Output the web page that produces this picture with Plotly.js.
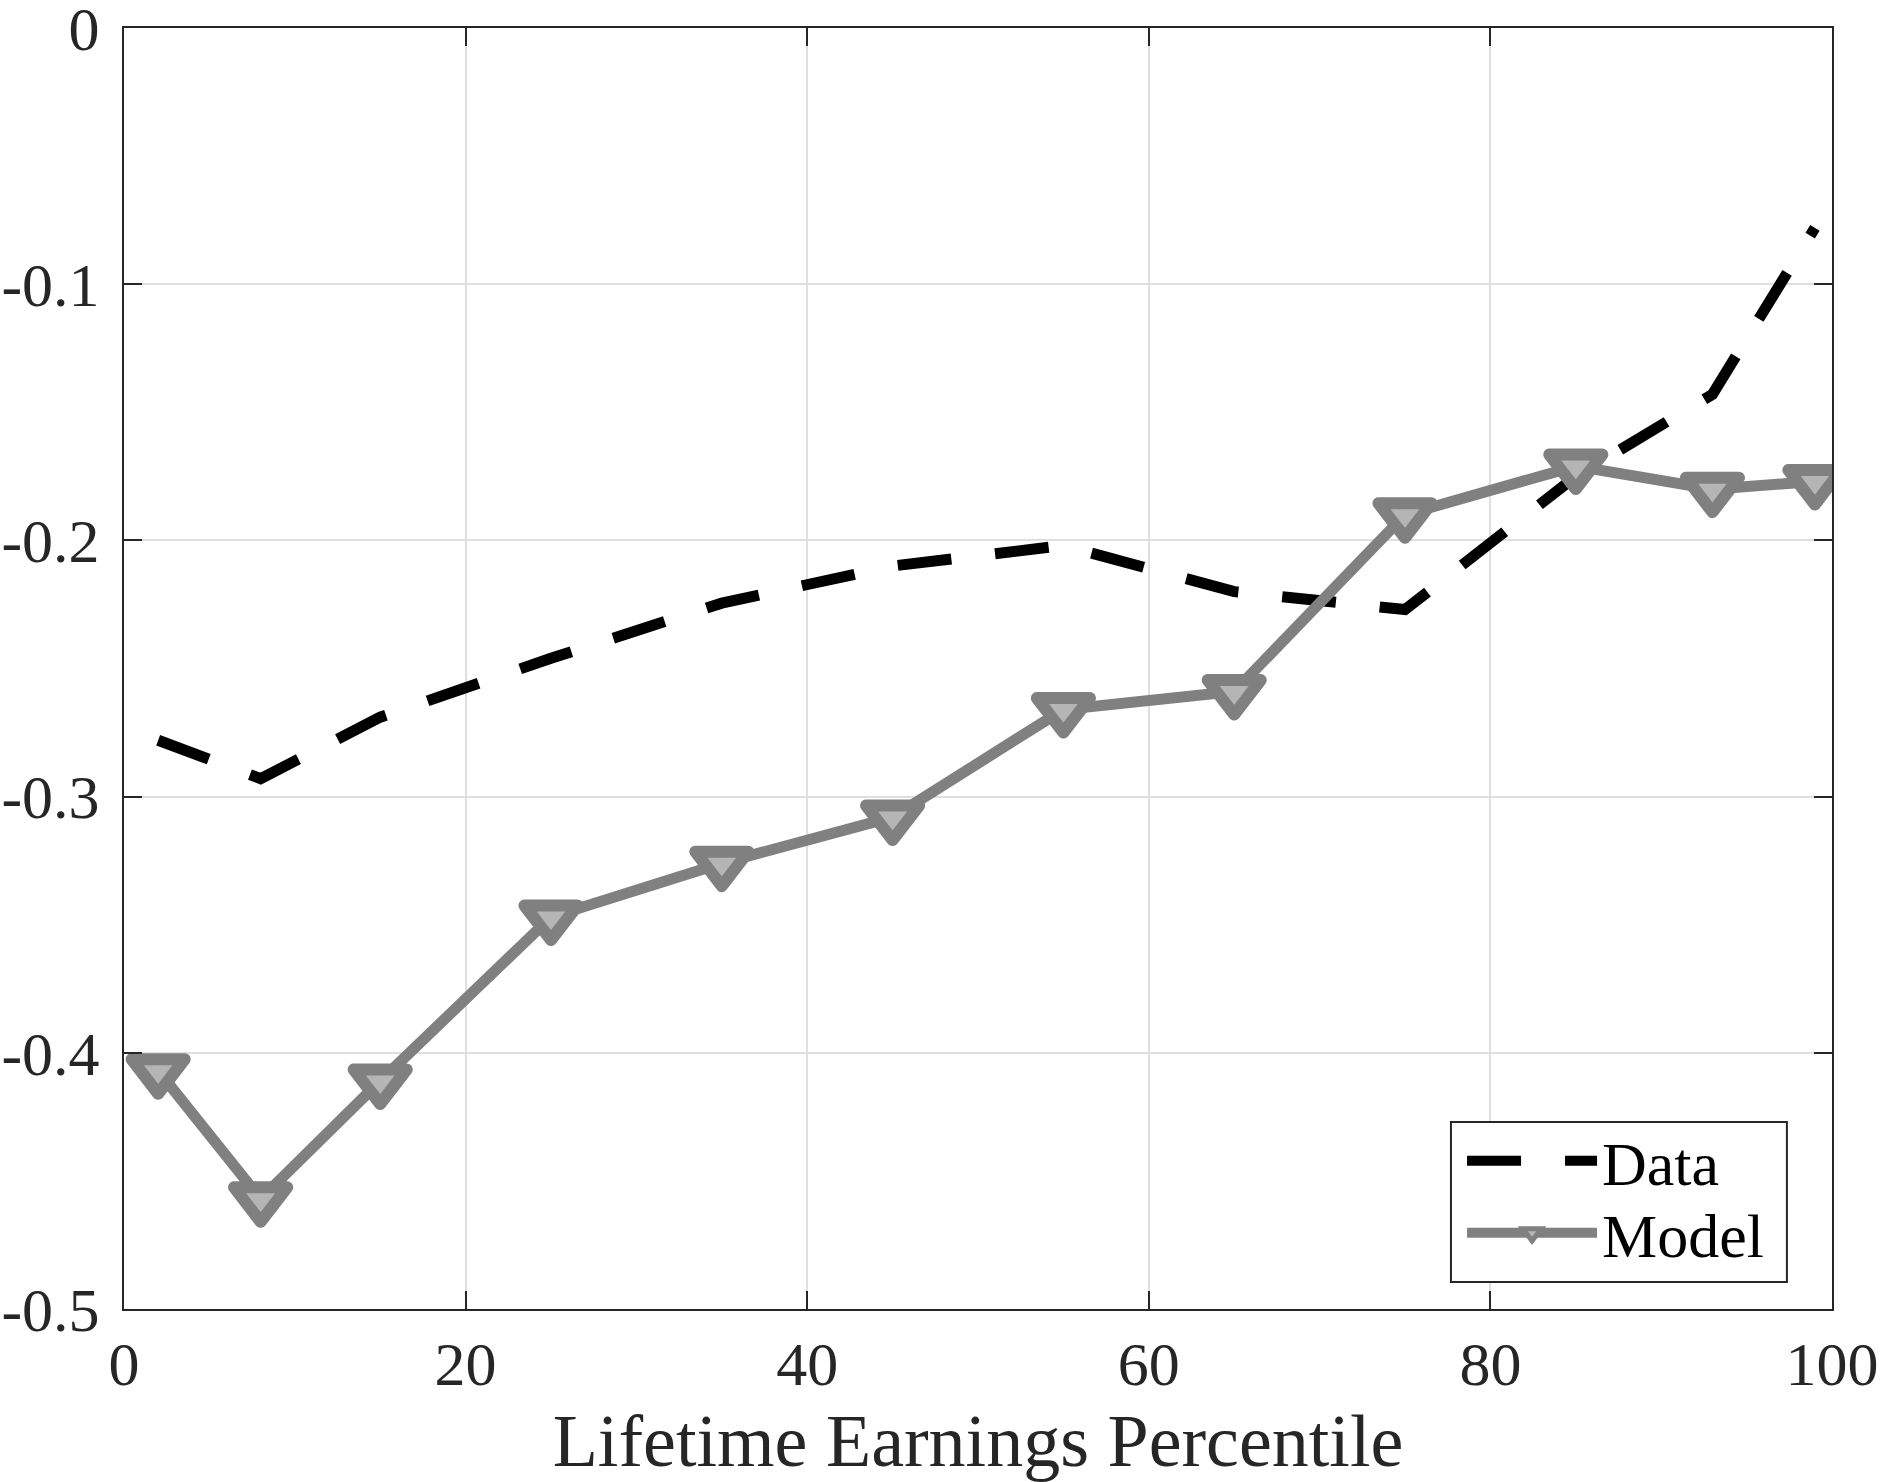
<!DOCTYPE html>
<html>
<head>
<meta charset="utf-8">
<script src="https://cdn.plot.ly/plotly-3.0.1.min.js"></script>
<style>
  html, body { margin: 0; padding: 0; background: #ffffff; }
  #chart { width: 1883px; height: 1482px; }
  .js-plotly-plot .scatterlayer path.point,
  .js-plotly-plot .legend path.scatterpts { stroke-linejoin: round; }
</style>
</head>
<body>
<div id="chart"></div>
<script>
// Lifetime earnings percentile (x positions)
var percentiles = [2, 8, 15, 25, 35, 45, 55, 65, 75, 85, 93, 99];

// Series values
var dataValues  = [-0.278, -0.293, -0.269, -0.246, -0.2245, -0.210, -0.202, -0.220, -0.227, -0.175, -0.143, -0.078];
var modelValues = [-0.407, -0.457, -0.411, -0.347, -0.326, -0.308, -0.266, -0.259, -0.190, -0.171, -0.180, -0.177];

// Tick values / labels
var xTickVals = [0, 20, 40, 60, 80, 100];
var xTickText = ['0', '20', '40', '60', '80', '100'];
var yTickVals = [0, -0.1, -0.2, -0.3, -0.4, -0.5];
var yTickText = ['0', '-0.1', '-0.2', '-0.3', '-0.4', '-0.5'];

var seriesNames = ['Data', 'Model'];
var xTitle = 'Lifetime Earnings Percentile';

var FONT = '"Liberation Serif", "Times New Roman", Times, serif';
var AXC = '#262626';

var traces = [
  {
    x: percentiles, y: dataValues, name: seriesNames[0],
    type: 'scatter', mode: 'lines', legend: 'legend',
    line: { color: '#000000', width: 11, dash: '54px,44px' },
    hoverinfo: 'skip'
  },
  {
    x: percentiles, y: modelValues, name: seriesNames[1],
    type: 'scatter', mode: 'lines+markers', legend: 'legend2',
    line: { color: '#808080', width: 11 },
    marker: { symbol: 'triangle-down', size: 46, color: '#b5b5b5',
              line: { color: '#808080', width: 12 } },
    hoverinfo: 'skip'
  }
];

// legend frame (paper coordinates)
var legBox = { x0: 0.7769, x1: 0.9736, y0: 0.0211, y1: 0.146 };

function legendAt(yc) {
  return {
    x: 0.7834, y: yc, xanchor: 'left', yanchor: 'middle',
    bgcolor: 'rgba(0,0,0,0)', borderwidth: 0,
    font: { family: FONT, size: 62, color: '#000000' },
    itemwidth: 130, tracegroupgap: 0
  };
}

var layout = {
  width: 1883, height: 1482,
  paper_bgcolor: '#ffffff', plot_bgcolor: '#ffffff',
  margin: { l: 124, r: 51, t: 28, b: 173, pad: 0 },
  font: { family: FONT, color: AXC, size: 58 },
  showlegend: true,
  legend: legendAt(0.1155),
  legend2: legendAt(0.0593),
  shapes: [{
    type: 'rect', xref: 'paper', yref: 'paper',
    x0: legBox.x0, x1: legBox.x1, y0: legBox.y0, y1: legBox.y1,
    fillcolor: '#ffffff', line: { color: AXC, width: 2 }, layer: 'above'
  }],
  xaxis: {
    range: [0, 100], tickvals: xTickVals, ticktext: xTickText,
    ticks: 'inside', ticklen: 18, tickwidth: 2, tickcolor: AXC,
    showline: true, linecolor: AXC, linewidth: 2, mirror: 'ticks',
    showgrid: true, gridcolor: '#dfdfdf', gridwidth: 2, zeroline: false,
    tickfont: { family: FONT, size: 62, color: AXC },
    ticklabelstandoff: 0, ticklabeloverflow: 'allow',
    title: { text: xTitle, font: { family: FONT, size: 74, color: AXC }, standoff: 40 },
    fixedrange: true
  },
  yaxis: {
    range: [-0.5, 0], tickvals: yTickVals, ticktext: yTickText,
    ticks: 'inside', ticklen: 18, tickwidth: 2, tickcolor: AXC,
    showline: true, linecolor: AXC, linewidth: 2, mirror: 'ticks',
    showgrid: true, gridcolor: '#dfdfdf', gridwidth: 2, zeroline: false,
    tickfont: { family: FONT, size: 62, color: AXC },
    ticklabelstandoff: 10, ticklabeloverflow: 'allow',
    fixedrange: true
  }
};

Plotly.newPlot('chart', traces, layout, { staticPlot: true, displayModeBar: false });
</script>
</body>
</html>
